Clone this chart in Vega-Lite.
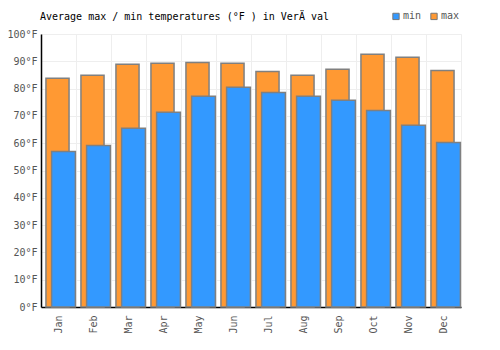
{
  "$schema": "https://vega.github.io/schema/vega-lite/v6.json",
  "width": 420,
  "height": 273,
  "autosize": {"type": "none"},
  "padding": {"left": 41, "top": 34, "right": 39, "bottom": 43},
  "background": "white",
  "view": {"stroke": "#eeeeee", "strokeWidth": 1},
  "config": {
    "font": "DejaVu Sans Mono",
    "axis": {"labelFont": "DejaVu Sans Mono", "labelFontSize": 10, "labelColor": "#555555", "gridColor": "#eeeeee", "gridWidth": 1, "domainColor": "#000000", "domainWidth": 1.5, "ticks": false, "title": null},
    "legend": {"labelFont": "DejaVu Sans Mono", "labelFontSize": 10, "labelColor": "#555555"}
  },
  "title": {"text": "Average max / min temperatures (°F ) in VerÄ val", "anchor": "start", "frame": "group", "font": "DejaVu Sans Mono", "fontSize": 10, "fontWeight": "normal", "color": "#000000", "offset": 12, "dx": -1, "dy": 23},
  "data": {"values": [
    {"month": "Jan", "type": "max", "temp": 83.8}, {"month": "Jan", "type": "min", "temp": 57.0},
    {"month": "Feb", "type": "max", "temp": 84.9}, {"month": "Feb", "type": "min", "temp": 59.2},
    {"month": "Mar", "type": "max", "temp": 88.9}, {"month": "Mar", "type": "min", "temp": 65.5},
    {"month": "Apr", "type": "max", "temp": 89.3}, {"month": "Apr", "type": "min", "temp": 71.3},
    {"month": "May", "type": "max", "temp": 89.6}, {"month": "May", "type": "min", "temp": 77.2},
    {"month": "Jun", "type": "max", "temp": 89.3}, {"month": "Jun", "type": "min", "temp": 80.5},
    {"month": "Jul", "type": "max", "temp": 86.3}, {"month": "Jul", "type": "min", "temp": 78.6},
    {"month": "Aug", "type": "max", "temp": 84.9}, {"month": "Aug", "type": "min", "temp": 77.2},
    {"month": "Sep", "type": "max", "temp": 87.1}, {"month": "Sep", "type": "min", "temp": 75.7},
    {"month": "Oct", "type": "max", "temp": 92.6}, {"month": "Oct", "type": "min", "temp": 72.0},
    {"month": "Nov", "type": "max", "temp": 91.5}, {"month": "Nov", "type": "min", "temp": 66.6},
    {"month": "Dec", "type": "max", "temp": 86.6}, {"month": "Dec", "type": "min", "temp": 60.3}
  ]},
  "encoding": {
    "x": {"field": "month", "type": "ordinal", "sort": null,
      "scale": {"paddingInner": 0, "paddingOuter": 0},
      "axis": {"labelAngle": -90, "labelAlign": "right", "labelBaseline": "middle", "labelPadding": 8, "bandPosition": 0, "grid": true, "domainWidth": 1.5}},
    "y": {"field": "temp", "type": "quantitative",
      "scale": {"domain": [0, 100], "nice": false},
      "axis": {"values": [0,10,20,30,40,50,60,70,80,90,100], "labelExpr": "datum.value + '°F'", "labelPadding": 4, "grid": true}},
    "color": {"field": "type", "type": "nominal",
      "scale": {"domain": ["min", "max"], "range": ["#3399ff", "#ff9933"]},
      "legend": {"title": null, "orient": "none", "direction": "horizontal", "legendX": 350, "legendY": -23, "symbolType": "square", "symbolSize": 40, "symbolStrokeColor": "#777777", "symbolStrokeWidth": 1, "symbolOpacity": 1, "columnPadding": 6, "labelOffset": 2}}
  },
  "layer": [
    {"transform": [{"filter": "datum.type === 'max'"}],
     "mark": {"type": "bar", "width": {"band": 0.66}, "xOffset": -1, "stroke": "#808080", "strokeWidth": 1.5, "opacity": 1}},
    {"transform": [{"filter": "datum.type === 'min'"}],
     "mark": {"type": "bar", "width": {"band": 0.68}, "xOffset": 5, "stroke": "#808080", "strokeWidth": 1.5, "opacity": 1}}
  ]
}
